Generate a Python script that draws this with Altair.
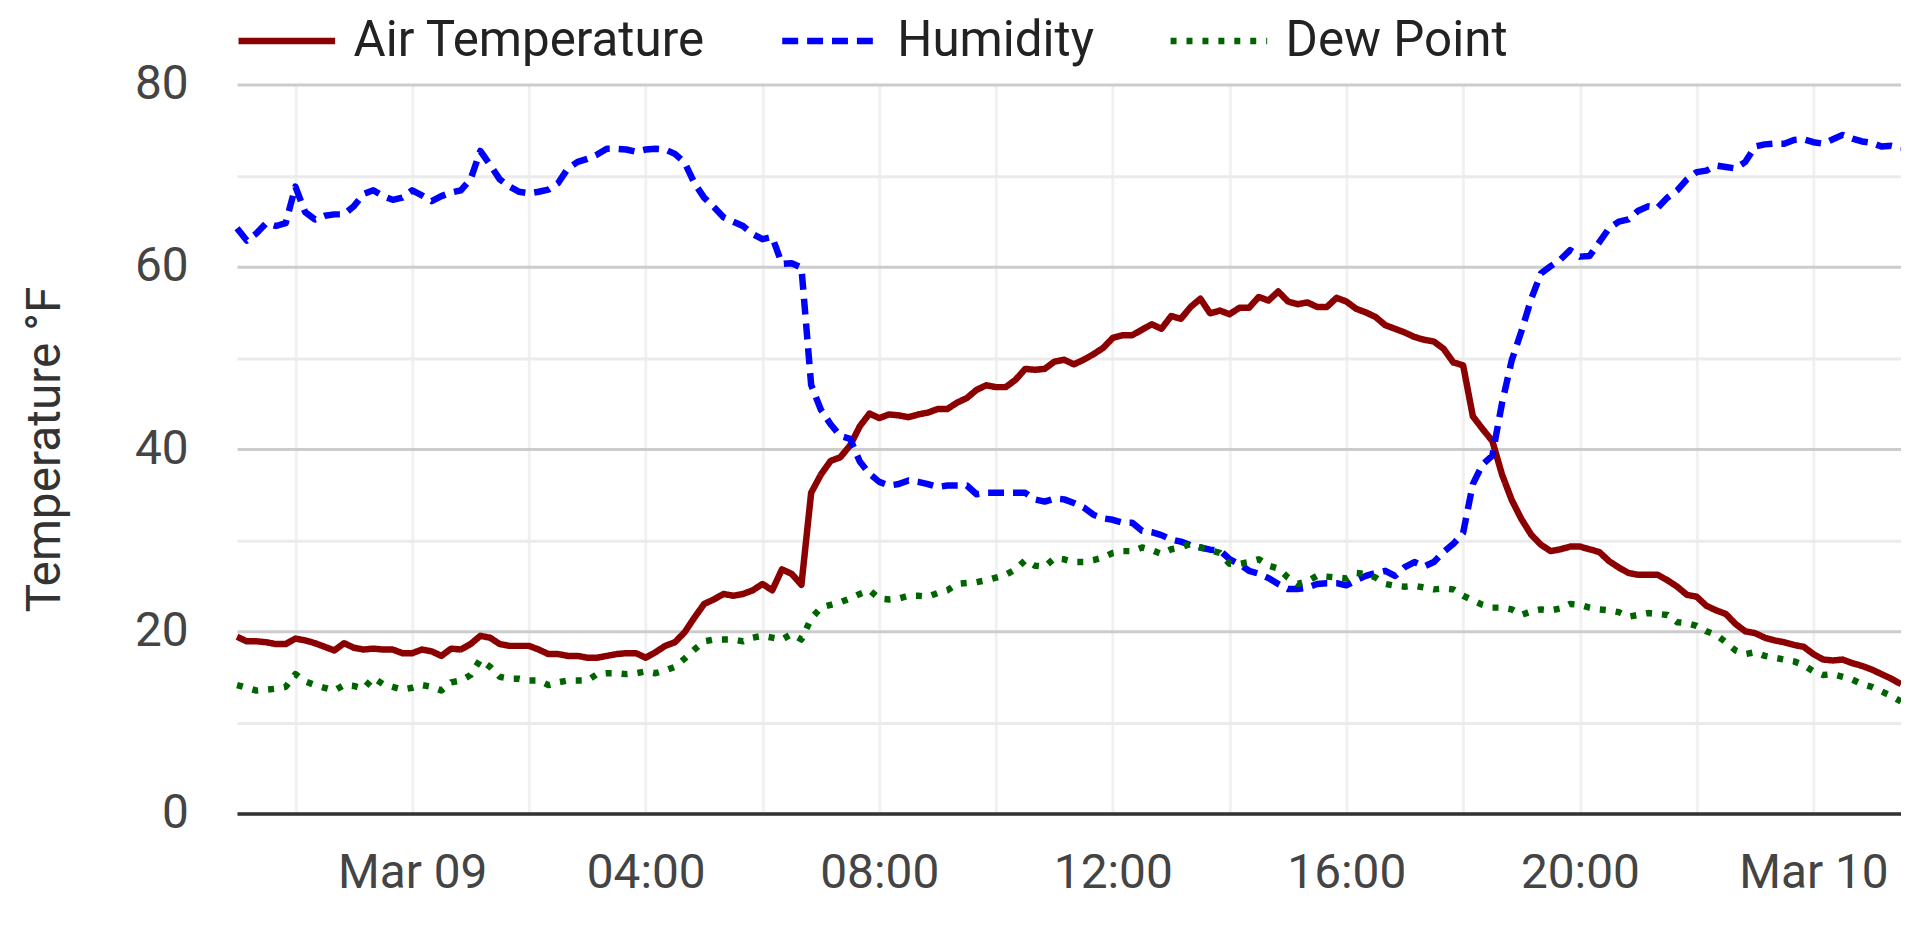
import altair as alt
import pandas as pd

# 10-minute readings, 2023-03-08 21:00 .. 2023-03-10 01:30 (local time)
times = pd.date_range("2023-03-08 21:00", periods=172, freq="10min").strftime("%Y-%m-%dT%H:%M:%S").tolist()

air_temp = [
    19.4, 18.9, 18.9, 18.8, 18.6, 18.6, 19.2, 19.0, 18.7, 18.3, 17.9, 18.7,
    18.2, 18.0, 18.1, 18.0, 18.0, 17.6, 17.6, 18.0, 17.8, 17.3, 18.1, 18.0,
    18.6, 19.5, 19.3, 18.6, 18.4, 18.4, 18.4, 18.0, 17.5, 17.5, 17.3, 17.3,
    17.1, 17.1, 17.3, 17.5, 17.6, 17.6, 17.1, 17.7, 18.4, 18.8, 19.9, 21.5,
    23.0, 23.5, 24.1, 23.9, 24.1, 24.5, 25.2, 24.5, 26.8, 26.3, 25.1, 35.2,
    37.2, 38.7, 39.1, 40.4, 42.5, 43.9, 43.4, 43.8, 43.7, 43.5, 43.8, 44.0,
    44.4, 44.4, 45.1, 45.6, 46.5, 47.0, 46.8, 46.8, 47.6, 48.8, 48.7, 48.8,
    49.6, 49.8, 49.3, 49.8, 50.4, 51.1, 52.2, 52.5, 52.5, 53.1, 53.7, 53.2,
    54.6, 54.3, 55.6, 56.5, 54.9, 55.2, 54.8, 55.5, 55.5, 56.7, 56.3, 57.3,
    56.2, 55.9, 56.1, 55.6, 55.6, 56.6, 56.2, 55.4, 55.0, 54.5, 53.6, 53.2,
    52.8, 52.3, 52.0, 51.8, 51.0, 49.5, 49.2, 43.6, 42.2, 40.9, 37.2, 34.4,
    32.3, 30.6, 29.5, 28.8, 29.0, 29.3, 29.3, 29.0, 28.7, 27.7, 27.0, 26.4,
    26.2, 26.2, 26.2, 25.6, 24.9, 24.0, 23.8, 22.8, 22.3, 21.9, 20.8, 20.0,
    19.8, 19.3, 19.0, 18.8, 18.5, 18.3, 17.5, 16.9, 16.8, 16.9, 16.5, 16.2,
    15.8, 15.3, 14.8, 14.2,
]

humidity = [
    80.3, 78.6, 79.6, 81.0, 80.6, 81.0, 86.0, 82.5, 81.5, 82.0, 82.2, 82.2,
    83.3, 85.0, 85.5, 84.7, 84.2, 84.5, 85.5, 84.8, 84.0, 84.7, 85.2, 85.5,
    87.0, 90.9, 89.0, 87.0, 86.0, 85.3, 85.1, 85.3, 85.6, 86.5, 88.5, 89.4,
    89.8, 90.4, 91.2, 91.2, 91.1, 90.8, 91.1, 91.2, 91.1, 90.5, 89.3, 86.5,
    84.5, 83.2, 81.8, 81.2, 80.6, 79.5, 78.8, 79.1, 75.4, 75.5, 74.9, 58.8,
    55.4, 53.4, 51.8, 51.4, 48.3, 46.6, 45.5, 45.0, 45.2, 45.7, 45.5, 45.2,
    44.8, 45.0, 45.0, 45.0, 43.8, 44.0, 44.0, 44.0, 44.0, 44.0, 43.1, 42.8,
    43.2, 43.1, 42.6, 42.0, 41.0, 40.5, 40.3, 39.9, 39.9, 38.8, 38.6, 38.2,
    37.6, 37.3, 36.8, 36.5, 36.2, 36.1, 34.9, 34.2, 33.3, 32.9, 32.3, 31.5,
    30.8, 30.8, 31.0, 31.5, 31.6, 31.6, 31.3, 32.0, 32.6, 33.0, 33.3, 32.6,
    33.8, 34.5, 33.9, 34.5, 35.9, 37.0, 38.5, 45.2, 47.9, 49.1, 56.3, 62.2,
    66.2, 70.6, 74.1, 75.1, 76.0, 77.3, 76.4, 76.5, 78.4, 80.3, 81.2, 81.5,
    82.7, 83.3, 83.1, 84.5, 85.5, 87.0, 88.0, 88.2, 88.9, 88.7, 88.5, 89.4,
    91.5, 91.8, 91.9, 91.9, 92.4, 92.5, 92.1, 91.9, 92.5, 93.1, 92.6, 92.2,
    92.0, 91.5, 91.6, 91.3,
]

dew_point = [
    14.1, 13.8, 13.5, 13.6, 13.7, 13.9, 15.3, 14.5, 14.1, 13.8, 13.5, 14.1,
    14.0, 13.7, 14.9, 14.2, 13.9, 13.6, 13.8, 14.1, 13.9, 13.5, 14.4, 14.6,
    15.2, 16.9, 16.1, 15.0, 14.8, 14.8, 14.6, 14.6, 14.1, 14.4, 14.6, 14.6,
    14.6, 15.3, 15.4, 15.4, 15.3, 15.4, 15.6, 15.4, 15.7, 16.1, 17.0, 18.0,
    18.9, 19.1, 19.1, 19.1, 18.9, 19.3, 19.5, 19.3, 19.1, 19.7, 19.1, 21.4,
    22.6, 22.9, 23.2, 23.6, 24.1, 24.5, 23.6, 23.5, 23.6, 23.9, 23.9, 23.8,
    24.2, 24.5, 25.2, 25.3, 25.4, 25.6, 25.9, 26.2, 26.8, 27.8, 27.2, 27.1,
    28.0, 27.9, 27.6, 27.6, 27.8, 28.1, 28.6, 28.8, 28.8, 29.2, 28.9, 28.5,
    29.0, 29.2, 29.6, 29.2, 28.9, 28.6, 27.4, 27.4, 27.6, 27.9, 27.2, 26.9,
    25.9, 25.2, 25.5, 26.1, 26.0, 25.9, 25.8, 26.4, 26.3, 25.9, 25.2, 25.0,
    24.9, 25.0, 24.8, 24.6, 24.7, 24.6, 23.9, 23.4, 22.9, 22.6, 22.6, 22.4,
    21.8, 22.2, 22.4, 22.3, 22.5, 23.0, 22.9, 22.6, 22.4, 22.3, 22.1, 21.6,
    21.8, 22.0, 21.9, 21.8, 21.0, 20.9, 20.6, 20.0, 19.6, 18.8, 17.9, 17.5,
    17.7, 17.3, 17.1, 16.9, 16.7, 16.3, 15.6, 15.2, 15.3, 15.0, 14.7, 14.2,
    13.9, 13.4, 12.9, 12.3,
]

series_names = ["Air Temperature", "Humidity", "Dew Point"]
series_colors = ["#8b0000", "#0000ff", "#006400"]
series_dashes = [[1, 0], [16, 9], [6, 10]]

temp_df = pd.DataFrame({"time": times, "value": air_temp, "series": series_names[0]})
hum_df = pd.DataFrame({"time": times, "value": humidity, "series": series_names[1]})
dew_df = pd.DataFrame({"time": times, "value": dew_point, "series": series_names[2]})

FONT = "Roboto"
W, H = 1671, 732

x_values = [alt.DateTime(year=2023, month=3, date=8, hours=22)] + [
    alt.DateTime(year=2023, month=3, date=9, hours=h) for h in range(0, 24, 2)
] + [alt.DateTime(year=2023, month=3, date=10, hours=0)]

x_enc = alt.X(
    "time:T",
    scale=alt.Scale(domain=[
        alt.DateTime(year=2023, month=3, date=8, hours=21),
        alt.DateTime(year=2023, month=3, date=10, hours=1, minutes=30),
    ]),
    axis=alt.Axis(
        values=x_values,
        labelExpr="hours(datum.value) % 4 == 0 ? (hours(datum.value) == 0 ? timeFormat(datum.value, '%b %d') : timeFormat(datum.value, '%H:%M')) : ''",
        title=None,
        grid=True, gridColor="#f1f1f1", gridWidth=3,
        ticks=False, tickSize=0,
        labelPadding=36, labelFontSize=48, labelFont=FONT, labelColor="#444444",
        labelOverlap=False, labelFlush=False,
        domainColor="#333333", domainWidth=3.5,
    ),
)

color_enc = alt.Color("series:N", scale=alt.Scale(domain=series_names, range=series_colors), legend=alt.Legend(title=None))
dash_enc = alt.StrokeDash("series:N", scale=alt.Scale(domain=series_names, range=series_dashes), legend=alt.Legend(title=None))

grid_temp = {"condition": {"test": "datum.value % 20 === 0", "value": "#cccccc"}, "value": "#ebebeb"}
grid_hum = {"condition": {"test": "datum.value % 20 === 0", "value": "#cccccc"}, "value": "#ebebeb"}

line_kw = dict(strokeWidth=6.5, strokeCap="butt", strokeJoin="round")

temp_layer = alt.Chart(temp_df).mark_line(**line_kw).encode(
    x=x_enc,
    y=alt.Y("value:Q", scale=alt.Scale(domain=[0, 80], nice=False), axis=alt.Axis(
        orient="left", values=list(range(0, 81, 10)),
        labelExpr="datum.value % 20 == 0 ? datum.label : ''",
        gridColor=grid_temp, gridWidth=3,
        ticks=False, tickSize=0, domain=False,
        labelPadding=49, labelFontSize=48, labelFont=FONT, labelColor="#444444",
        title="Temperature °F", titleFont=FONT, titleFontSize=48, titleFontWeight="normal",
        titleColor="#333333", titleAngle=270, titleX=-192, titleY=H / 2,
        titleAlign="center", titleBaseline="middle",
    )),
    color=color_enc,
    strokeDash=dash_enc,
)

hum_layer = alt.Chart(hum_df).mark_line(**line_kw).encode(
    x=x_enc,
    y=alt.Y("value:Q", scale=alt.Scale(domain=[0, 100], nice=False), axis=alt.Axis(
        orient="right", values=list(range(0, 101, 10)),
        labels=False, ticks=False, domain=False, title=None,
        gridColor=grid_hum, gridWidth=3,
    )),
    color=color_enc,
    strokeDash=dash_enc,
)

dew_layer = alt.Chart(dew_df).mark_line(**line_kw).encode(
    x=x_enc,
    y=alt.Y("value:Q", scale=alt.Scale(domain=[0, 80], nice=False), axis=None),
    color=color_enc,
    strokeDash=dash_enc,
)

chart = alt.layer(temp_layer, hum_layer, dew_layer).resolve_scale(
    y="independent"
).properties(
    width=W, height=H,
    autosize=alt.AutoSizeParams(type="none"),
    padding={"left": 230, "top": 75, "right": 0, "bottom": 110},
).configure_view(
    stroke=None
).configure_legend(
    orient="none", legendX=-2, legendY=-96, direction="horizontal",
    symbolType="stroke", symbolSize=9409, symbolStrokeWidth=6.5,
    labelFontSize=49.5, labelFont=FONT, labelColor="#222222", labelLimit=0,
    labelOffset=15, columnPadding=63, padding=0,
)

chart.save("out.html", embed_options={"renderer": "svg", "actions": False})
